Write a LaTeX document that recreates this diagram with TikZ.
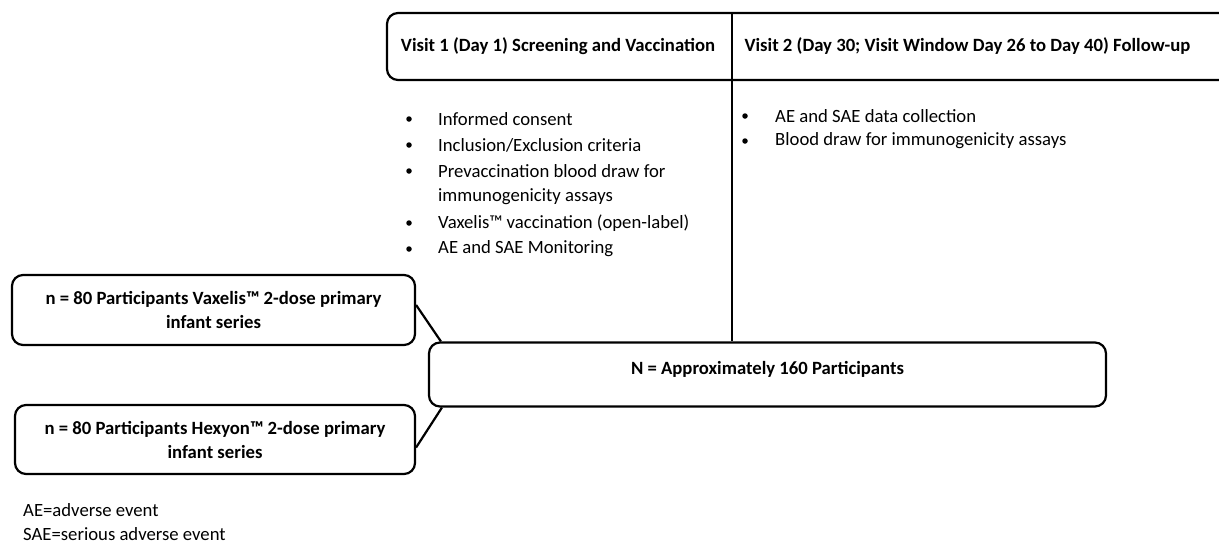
\documentclass[tikz,border=0pt]{standalone}
\usepackage{fontspec}
\setmainfont{Carlito}

\tikzset{
    box/.style={draw, line width=2.2pt, rounded corners=11pt, align=center, font=\bfseries\fontsize{18.7}{24}\selectfont},
    head/.style={font=\bfseries\fontsize{18.7}{22}\selectfont},
    item/.style={anchor=west, inner sep=0pt, font=\fontsize{18.7}{22}\selectfont},
    dot/.style={circle, fill, inner sep=0pt, minimum size=5.5pt},
}

\begin{document}
\begin{tikzpicture}[x=1pt, y=-1pt]
                \useasboundingbox (0,0) rectangle (1219,544);

                % visit header
                \draw[line width=2.2pt, rounded corners=11pt] (1225,13) -- (387,13) -- (387,80) -- (1225,80);
                \node[head] (visA) at (558,46) {Visit 1 (Day 1) Screening and Vaccination};
                \node[head, anchor=west] (visB) at (741,46) {Visit 2 (Day 30; Visit Window Day 26 to Day 40) Follow-up};
                \coordinate (split) at (732,13);

                % visit 1 tasks
                \foreach \y/\txt [count=\i] in {119/Informed consent, 145/{Inclusion/Exclusion criteria},
                        171/Prevaccination blood draw for, 197/immunogenicity assays,
                        223/Vaxelis™ vaccination (open-label), 249/AE and SAE Monitoring} {
                    \node[item] (taskA\i) at (438,\y) {\txt};
                }
                \foreach \y [count=\i] in {119, 145, 171, 223, 249} {
                    \node[dot] (dotA\i) at (409,\y) {};
                }

                % visit 2 tasks
                \foreach \y/\txt [count=\i] in {116/AE and SAE data collection, 141/Blood draw for immunogenicity assays} {
                    \node[item] (taskB\i) at (775,\y) {\txt};
                    \node[dot] (dotB\i) at (745,\y) {};
                }

                % arms and total
                \node[box, minimum width=403pt, minimum height=70pt] (vax) at (213.5,310)
                    {n = 80 Participants Vaxelis™ 2-dose primary\\infant series};
                \node[box, minimum width=400pt, minimum height=69pt] (hex) at (215,439.5)
                    {n = 80 Participants Hexyon™ 2-dose primary\\infant series};
                \node[box, minimum width=677pt, minimum height=64pt] (total) at (767.5,374.5)
                    {\raisebox{14pt}{N = Approximately 160 Participants}};

                \draw[line width=2.2pt] ([yshift=5pt]vax.east) -- ([xshift=13pt]total.north west);
                \draw[line width=2.2pt] ([yshift=-8pt]hex.east) -- ([xshift=14pt]total.south west);
                \draw[line width=1.3pt] (split) -- (split |- total.north);

                % abbreviations
                \node[item] (abbrA) at (23,510) {AE=adverse event};
                \node[item] (abbrB) at (23,534) {SAE=serious adverse event};
            \end{tikzpicture}
\end{document}
